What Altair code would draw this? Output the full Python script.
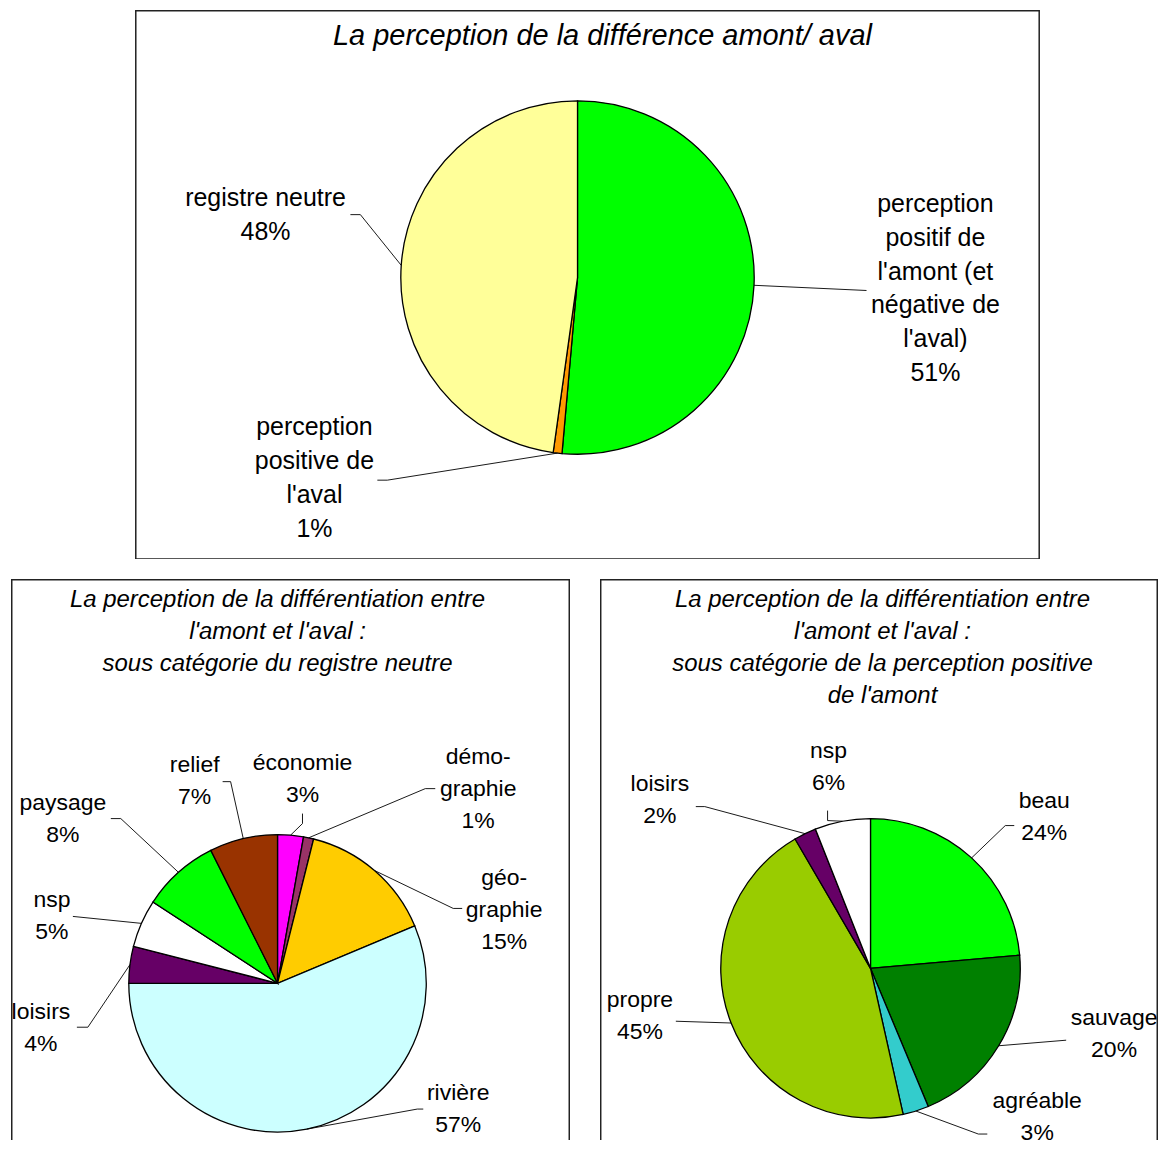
import math
import altair as alt
import pandas as pd

FONT = "Liberation Sans"

# ---------------- data ----------------
TOP_TITLE = ["La perception de la différence amont/ aval"]
TOP_NAMES = ["perception positif de l'amont (et négative de l'aval)",
             "perception positive de l'aval", "registre neutre"]
TOP_VALUES = [51.4, 0.8, 47.8]
TOP_LABELS = ["perception\npositif de\nl'amont (et\nnégative de\nl'aval)\n51%",
              "perception\npositive de\nl'aval\n1%",
              "registre neutre\n48%"]
TOP_COLORS = ["#00FF00", "#FF9900", "#FFFF99"]

BL_TITLE = ["La perception de la différentiation entre", "l'amont et l'aval :",
            "sous catégorie du registre neutre"]
BL_NAMES = ["économie", "démographie", "géographie", "rivière", "loisirs",
            "nsp", "paysage", "relief"]
BL_VALUES = [2.8, 1.1, 14.8, 56.3, 4.0, 5.2, 8.4, 7.4]
BL_LABELS = ["économie\n3%", "démo-\ngraphie\n1%", "géo-\ngraphie\n15%",
             "rivière\n57%", "loisirs\n4%", "nsp\n5%", "paysage\n8%", "relief\n7%"]
BL_COLORS = ["#FF00FF", "#993366", "#FFCC00", "#CCFFFF", "#660066",
             "#FFFFFF", "#00FF00", "#993300"]

BR_TITLE = ["La perception de la différentiation entre", "l'amont et l'aval :",
            "sous catégorie de la perception positive", "de l'amont"]
BR_NAMES = ["beau", "sauvage", "agréable", "propre", "loisirs", "nsp"]
BR_VALUES = [23.6, 20.1, 2.8, 45.1, 2.4, 6.0]
BR_LABELS = ["beau\n24%", "sauvage\n20%", "agréable\n3%", "propre\n45%",
             "loisirs\n2%", "nsp\n6%"]
BR_COLORS = ["#00FF00", "#008000", "#33CCCC", "#99CC00", "#660066", "#FFFFFF"]

# ---------------- layout (page pixels) ----------------
# view = (left, top, width, height) of the Vega view; frame = (x0, y0, x1, y1) of the drawn box
# label_pos / title_pos = centre of the first text line
TOP_LAYOUT = dict(
    view=(10, 8, 1149, 550), frame=(135, 8.75, 1040, 558), center=(577.5, 276), R=177,
    label_pos=[(936, 202), (314, 426), (265, 196)],
    leaders=[[(867, 289)], [(387, 479), (377, 479)], [(360, 213), (350, 213)]],
    label_size=25, label_lh=34,
    title_pos=(602.5, 34), title_size=29, title_lh=34)

BL_LAYOUT = dict(
    view=(10, 578, 560, 562), frame=(10.75, 578.75, 569.25, 1143), center=(277, 983), R=149,
    label_pos=[(302, 762), (478, 756), (504, 878), (458, 1093), (40, 1012),
               (51, 900), (62, 802), (194, 764)],
    leaders=[[(302, 823), (302, 813)], [(425, 788), (435, 788)],
             [(453, 908), (462, 908)], [(417, 1109), (423, 1109)],
             [(87, 1027), (76, 1027)], [(72, 916)], [(120, 818), (110, 818)],
             [(230, 781), (222, 781)]],
    label_size=23, label_lh=32,
    title_pos=(277, 599), title_size=24, title_lh=32)

BR_LAYOUT = dict(
    view=(600, 578, 559, 562), frame=(600.75, 578.75, 1158.25, 1143), center=(871, 968), R=150,
    label_pos=[(1045, 800), (1115, 1018), (1038, 1101), (640, 1000),
               (660, 783), (829, 750)],
    leaders=[[(1006, 825), (1015, 825)], [(1067, 1040)], [(979, 1134), (988, 1134)],
             [(676, 1021)], [(705, 806), (696, 806)], [(828, 820), (828, 810)]],
    label_size=23, label_lh=32,
    title_pos=(883, 599), title_size=24, title_lh=32)


def panel(names, values, labels, colors, title, L):
    left, top, W, H = L["view"]
    cx, cy = L["center"][0] - left, L["center"][1] - top
    R = L["R"]
    total = sum(values)
    slices, lines, texts = [], [], []
    cum = 0.0
    for i, (n, v) in enumerate(zip(names, values)):
        mid = (cum + v / 2) / total * 2 * math.pi
        cum += v
        slices.append(dict(idx=i, name=n, value=v))
        pts = [(cx + R * math.sin(mid), cy - R * math.cos(mid))]
        pts += [(px - left, py - top) for px, py in L["leaders"][i]]
        for k, (px, py) in enumerate(pts):
            lines.append(dict(name=n, k=k, x=px, y=py))
        lx, ly = L["label_pos"][i]
        texts.append(dict(name=n, text=labels[i], x=lx - left, y=ly - top))

    xs = alt.Scale(domain=[0, W], range=[0, W])
    ys = alt.Scale(domain=[0, H], range=[0, H])

    fx0, fy0, fx1, fy1 = L["frame"]
    frame = alt.Chart(pd.DataFrame({"f": [0]})).mark_rect(
        fill="transparent", stroke="#222222", strokeWidth=1.5, clip=True
    ).encode(
        x=alt.value(fx0 - left), x2=alt.value(fx1 - left),
        y=alt.value(fy0 - top), y2=alt.value(fy1 - top),
    )
    pie = alt.Chart(pd.DataFrame(slices)).mark_arc(
        radius=R, stroke="black", strokeWidth=1.3
    ).encode(
        theta=alt.Theta("value:Q", stack=True),
        order=alt.Order("idx:Q"),
        color=alt.Color("name:N", scale=alt.Scale(domain=names, range=colors), legend=None),
        x=alt.value(cx), y=alt.value(cy),
    )
    lead = alt.Chart(pd.DataFrame(lines)).mark_line(
        color="black", strokeWidth=0.9
    ).encode(
        x=alt.X("x:Q", scale=xs, axis=None),
        y=alt.Y("y:Q", scale=ys, axis=None),
        detail="name:N", order="k:Q",
    )
    lab = alt.Chart(pd.DataFrame(texts)).mark_text(
        font=FONT, fontSize=L["label_size"], lineBreak="\n", lineHeight=L["label_lh"],
        align="center", baseline="middle", color="black"
    ).encode(
        x=alt.X("x:Q", scale=xs, axis=None),
        y=alt.Y("y:Q", scale=ys, axis=None),
        text="text:N",
    )
    tdf = pd.DataFrame({"t": ["\n".join(title)]})
    ttl = alt.Chart(tdf).mark_text(
        font=FONT, fontSize=L["title_size"], fontStyle="italic", lineBreak="\n",
        lineHeight=L["title_lh"], align="center", baseline="middle", color="black"
    ).encode(
        x=alt.value(L["title_pos"][0] - left), y=alt.value(L["title_pos"][1] - top),
        text="t:N",
    )
    return alt.layer(frame, pie, lead, lab, ttl).properties(width=W, height=H)


top = panel(TOP_NAMES, TOP_VALUES, TOP_LABELS, TOP_COLORS, TOP_TITLE, TOP_LAYOUT)
bl = panel(BL_NAMES, BL_VALUES, BL_LABELS, BL_COLORS, BL_TITLE, BL_LAYOUT)
br = panel(BR_NAMES, BR_VALUES, BR_LABELS, BR_COLORS, BR_TITLE, BR_LAYOUT)

bottom = alt.hconcat(bl, br, spacing=30, bounds="flush").resolve_scale(
    color="independent", x="independent", y="independent")
chart = alt.vconcat(top, bottom, spacing=20, bounds="flush").resolve_scale(
    color="independent", x="independent", y="independent"
).configure_view(
    stroke="transparent"
).properties(
    padding={"left": 2, "top": 0, "right": 0, "bottom": 0},
    background="white",
)

chart.save("out.html", embed_options={"renderer": "svg", "actions": False})
